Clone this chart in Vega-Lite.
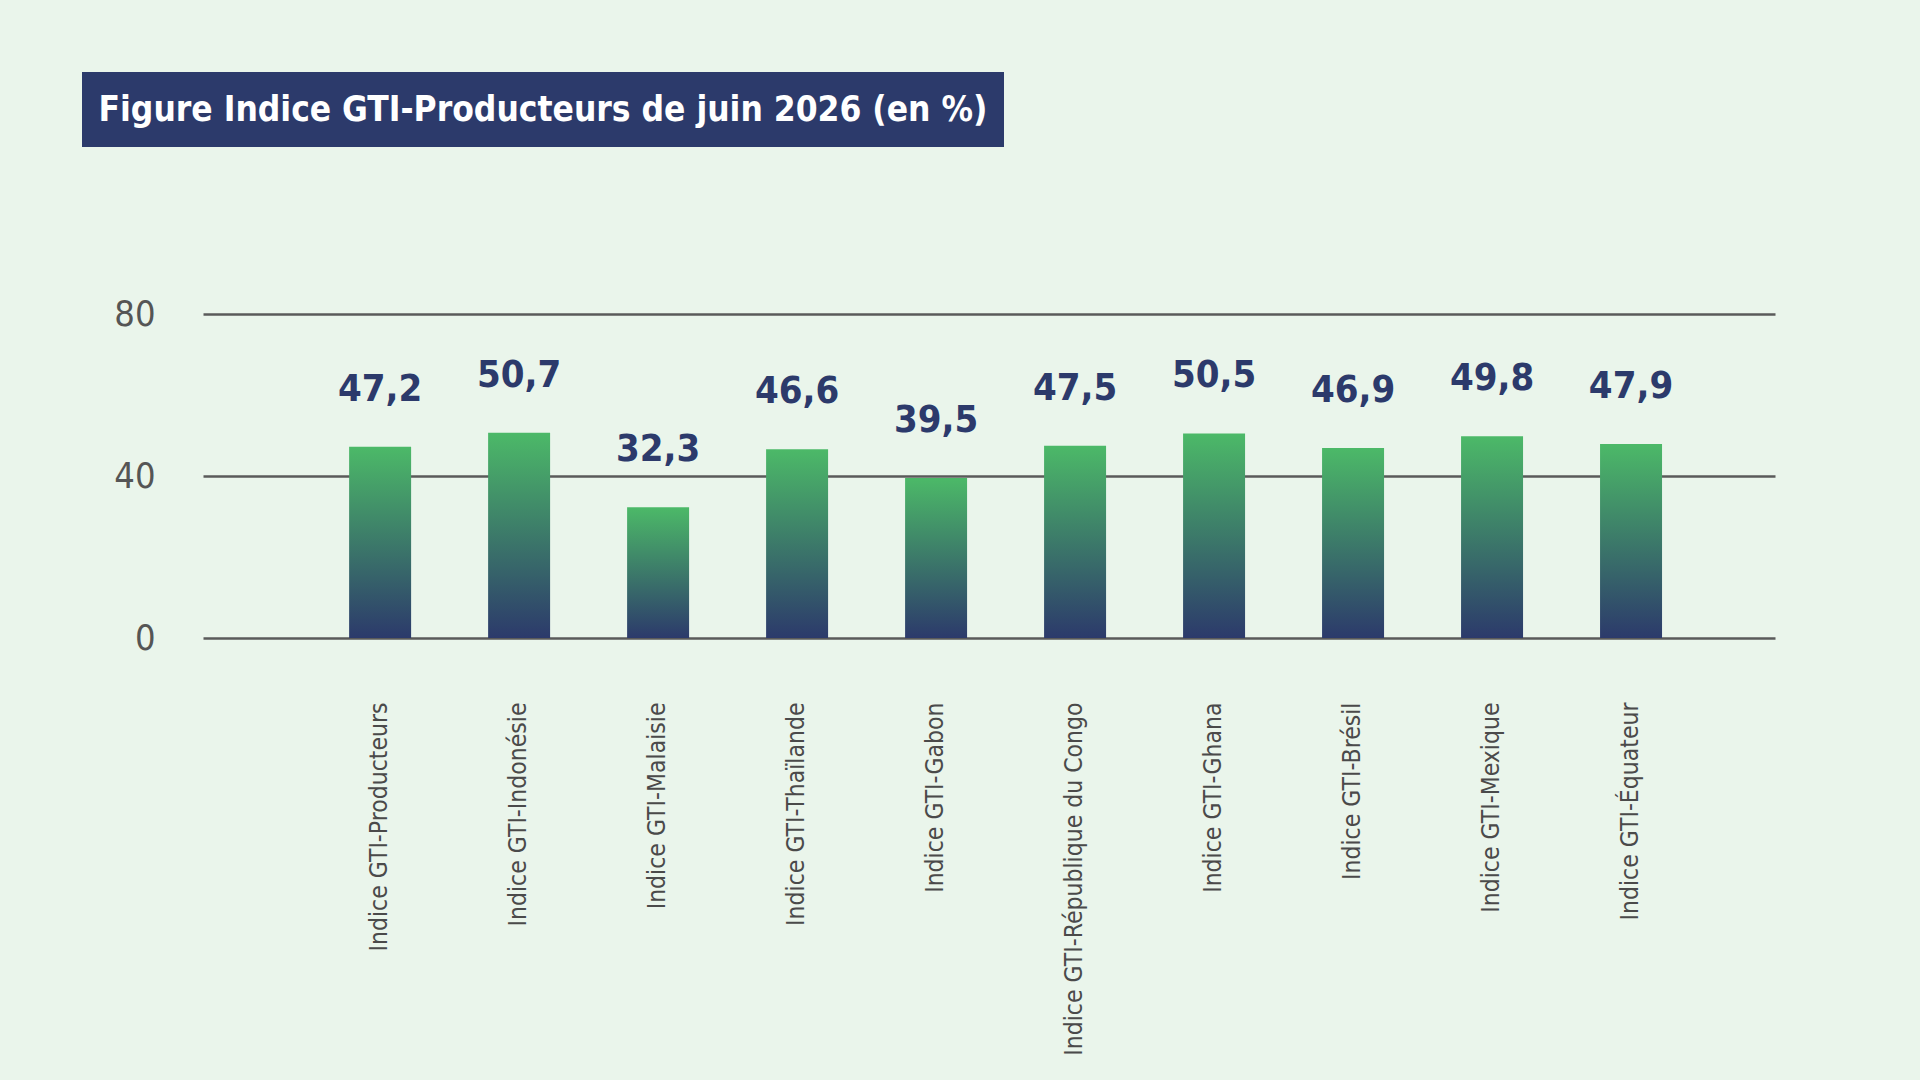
{
  "$schema": "https://vega.github.io/schema/vega-lite/v6.json",
  "background": "#eaf5eb",
  "padding": {"left": 82, "top": 72, "right": 145, "bottom": 40},
  "config": {
    "view": {"stroke": null},
    "locale": {"number": {"decimal": ",", "thousands": " ", "grouping": [3], "currency": ["", " €"]}}
  },
  "datasets": {
    "bars": [
      {"indice": "Indice GTI-Producteurs", "valeur": 47.2},
      {"indice": "Indice GTI-Indonésie", "valeur": 50.7},
      {"indice": "Indice GTI-Malaisie", "valeur": 32.3},
      {"indice": "Indice GTI-Thaïlande", "valeur": 46.6},
      {"indice": "Indice GTI-Gabon", "valeur": 39.5},
      {"indice": "Indice GTI-République du Congo", "valeur": 47.5},
      {"indice": "Indice GTI-Ghana", "valeur": 50.5},
      {"indice": "Indice GTI-Brésil", "valeur": 46.9},
      {"indice": "Indice GTI-Mexique", "valeur": 49.8},
      {"indice": "Indice GTI-Équateur", "valeur": 47.9}
    ],
    "titre": [{"t": "Figure Indice GTI-Producteurs  de juin 2026 (en %)"}]
  },
  "spacing": 149,
  "vconcat": [
    {
      "width": 922,
      "height": 75,
      "data": {"name": "titre"},
      "layer": [
        {"mark": {"type": "rect", "color": "#2c3a6b"}},
        {
          "mark": {"type": "text", "color": "#ffffff", "font": "DejaVu Sans Condensed, Roboto", "fontWeight": "bold", "fontSize": 35, "align": "center", "baseline": "middle"},
          "encoding": {"text": {"field": "t"}}
        }
      ]
    },
    {
      "width": 1693,
      "height": 324,
      "data": {"name": "bars"},
      "encoding": {
        "x": {
          "field": "indice",
          "type": "nominal",
          "sort": null,
          "scale": {"range": [121, 1693], "paddingInner": 0.554, "paddingOuter": 0.932, "align": 0.564},
          "axis": {
            "title": null,
            "labelAngle": -90,
            "labelFont": "DejaVu Sans Condensed, Roboto",
            "labelFontSize": 24.5,
            "labelColor": "#4a4a4a",
            "labelPadding": 64,
            "labelLimit": 600,
            "ticks": false,
            "domain": false,
            "grid": false
          }
        },
        "y": {
          "field": "valeur",
          "type": "quantitative",
          "scale": {"domain": [0, 80]},
          "axis": {
            "values": [0, 40, 80],
            "title": null,
            "offset": -121,
            "labelFont": "DejaVu Sans Condensed, Roboto",
            "labelFontSize": 36,
            "labelColor": "#555555",
            "labelPadding": 48,
            "ticks": false,
            "domain": false,
            "grid": true,
            "gridColor": "#5a5a5a",
            "gridWidth": 2.5
          }
        }
      },
      "layer": [
        {
          "mark": {
            "type": "bar",
            "color": {
              "gradient": "linear",
              "x1": 0, "y1": 0, "x2": 0, "y2": 1,
              "stops": [
                {"offset": 0, "color": "#4cb968"},
                {"offset": 1, "color": "#2c3a6b"}
              ]
            }
          }
        },
        {
          "mark": {"type": "text", "dy": -46, "baseline": "alphabetic", "align": "center", "font": "DejaVu Sans Condensed, Roboto", "fontWeight": "bold", "fontSize": 38, "color": "#2c3a6b"},
          "encoding": {"text": {"field": "valeur", "type": "quantitative", "format": ".1f"}}
        }
      ]
    }
  ]
}
